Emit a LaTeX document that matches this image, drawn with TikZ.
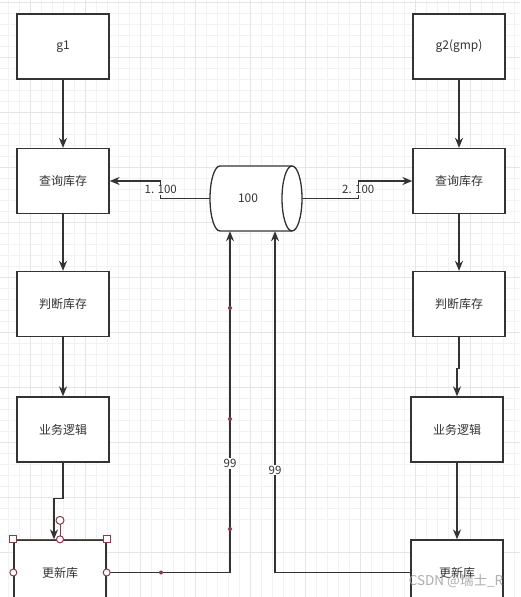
\documentclass[tikz,border=0pt]{standalone}
\usepackage{fontspec}
\setmainfont{Noto Sans CJK SC}
\usetikzlibrary{arrows.meta}
\definecolor{ink}{HTML}{333333}
\definecolor{handle}{HTML}{8B3A4A}
\begin{document}
\begin{tikzpicture}[x=1pt, y=-1pt,
    box/.style={draw=ink, line width=1.3pt, fill=white, minimum width=92pt, minimum height=65pt, inner sep=0pt, text=ink, font=\fontsize{12}{14}\selectfont},
    flow/.style={draw=ink, line width=1.3pt, -{Stealth[length=10pt, width=8pt]}},
    tag/.style={fill=white, inner sep=1pt, text=ink, font=\fontsize{11.5}{13}\selectfont}]
    % Canvas with grid
    \clip (0,0) rectangle (520,597);
    \fill[white] (0,0) rectangle (520,597);
    \foreach \k in {0,...,47} {
        \draw[gray!10, line width=0.6pt] (8+11*\k,0) -- (8+11*\k,597);
        \draw[gray!10, line width=0.6pt] (0,2+11*\k) -- (520,2+11*\k);
    }
    \foreach \k in {0,...,10} {
        \draw[gray!20, line width=0.8pt] (30+55*\k,0) -- (30+55*\k,597);
        \draw[gray!20, line width=0.8pt] (0,2+55*\k) -- (520,2+55*\k);
    }

    % Left column (g1)
    \node[box] (g1) at (63,46.5) {g1};
    \node[box] (qry1) at (63,181) {查询库存};
    \node[box] (chk1) at (63,304) {判断库存};
    \node[box] (biz1) at (63,429.5) {业务逻辑};
    \node[box] (upd1) at (60,572.5) {更新库};

    % Right column (g2)
    \node[box] (g2) at (459,46.5) {g2(gmp)};
    \node[box] (qry2) at (459,181) {查询库存};
    \node[box] (chk2) at (459,304) {判断库存};
    \node[box] (biz2) at (457,429.5) {业务逻辑};
    \node[box] (upd2) at (457,572.5) {更新库};

    % Stock store (drawn as a lying cylinder)
    \node[minimum width=92pt, minimum height=65pt, inner sep=0pt] (db) at (256,198.5) {};
    \draw[ink, line width=1.3pt, fill=white] (220,166) -- (292,166)
        arc[start angle=90, end angle=-90, x radius=10pt, y radius=32.5pt] -- (220,231)
        arc[start angle=270, end angle=90, x radius=10pt, y radius=32.5pt] -- cycle;
    \draw[ink, line width=1.3pt] (292,166) arc[start angle=90, end angle=270, x radius=10pt, y radius=32.5pt];
    \node[text=ink, font=\fontsize{12}{14}\selectfont] (dbval) at ([xshift=-8pt]db.center) {100};

    % Flow inside each column
    \draw[flow] (g1) -- (qry1);
    \draw[flow] (qry1) -- (chk1);
    \draw[flow] (chk1) -- (biz1);
    \draw[flow] (biz1.south) -- ++(0,36) -| ([xshift=-6pt]upd1.north);
    \draw[flow] (g2) -- (qry2);
    \draw[flow] (qry2) -- (chk2);
    \draw[flow] (chk2.south) -- ++(0,31) -| (biz2.north);
    \draw[flow] (biz2) -- (upd2);

    % Reads from the store
    \draw[flow] (db.west) -- ++(-49,0) |- node[tag, pos=0.25] {1. 100} (qry1.east);
    \draw[flow] (db.east) -- ++(56,0) |- node[tag, pos=0.25] {2. 100} (qry2.west);

    % Writes back to the store
    \draw[flow] (upd1.east) -| node[tag, pos=0.66] {99} ([xshift=-26pt]db.south);
    \draw[flow] (upd2.west) -| node[tag, pos=0.65] {99} ([xshift=19pt]db.south);

    % Selection handles
    \draw[handle, line width=1pt] (upd1.north west) -- (upd1.north east);
    \draw[handle, line width=1pt] (upd1.north) -- ([yshift=15pt]upd1.north);
    \filldraw[fill=white, draw=handle, line width=1pt] ([yshift=19pt]upd1.north) circle[radius=4pt];
    \foreach \a in {north west, north east}
        \filldraw[fill=white, draw=handle, line width=1pt] ([shift={(-3.5pt,-3.5pt)}]upd1.\a) rectangle ++(7pt,7pt);
    \foreach \a in {north, west, east}
        \filldraw[fill=white, draw=handle, line width=1pt] (upd1.\a) circle[radius=3.5pt];
    \foreach \p in {(230,308), (230,419), (230,529), (161,572.5)}
        \fill[handle] \p circle[radius=2pt];

    % Watermark
    \node[text=gray!75, opacity=0.85, font=\fontsize{13.5}{15}\selectfont] (mark) at (456,581) {CSDN @瑞士\_R};
\end{tikzpicture}
\end{document}
